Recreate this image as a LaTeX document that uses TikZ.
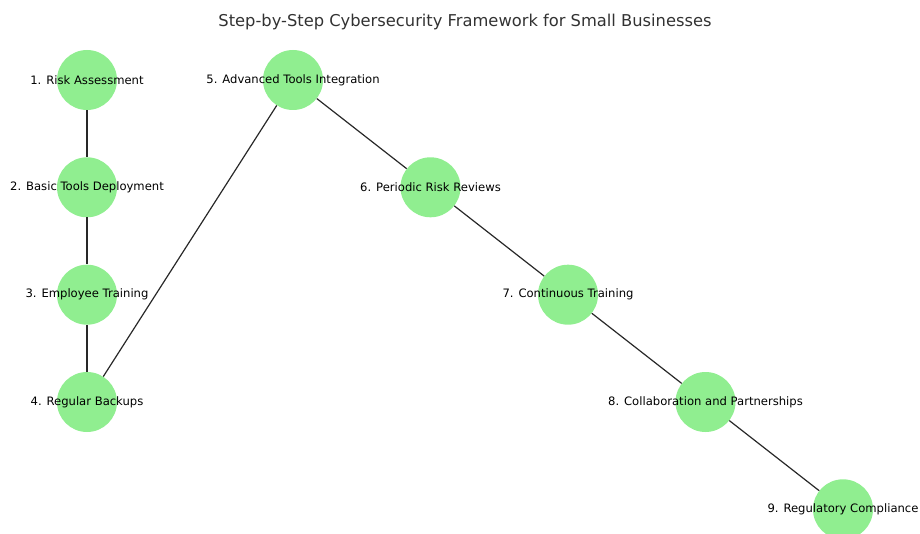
\documentclass[tikz,border=0pt]{standalone}
\usepackage{fontspec}
\setmainfont{DejaVu Sans}
\definecolor{nodegreen}{RGB}{144,238,144}
\definecolor{edgegray}{RGB}{40,40,40}
\definecolor{titlegray}{RGB}{50,50,50}
\begin{document}
\begin{tikzpicture}[x=1pt,y=-1pt,
  stepnode/.style={circle,fill=nodegreen,draw=none,minimum size=60pt,inner sep=0pt},
  steplabel/.style={font=\fontsize{11.6}{13}\selectfont,text=black,inner sep=0pt},
  link/.style={draw=edgegray,line width=1.2pt}]
\useasboundingbox (0,0) rectangle (920,534);
\node[font=\fontsize{16.3}{19}\selectfont,text=titlegray] (title) at (465,22) {Step-by-Step Cybersecurity Framework for Small Businesses};
\node[stepnode] (n1) at (87,80) {};
\node[stepnode] (n2) at (87,187.3) {};
\node[stepnode] (n3) at (87,294.7) {};
\node[stepnode] (n4) at (87,402) {};
\node[stepnode] (n5) at (293,80) {};
\node[stepnode] (n6) at (430.5,187.3) {};
\node[stepnode] (n7) at (568,294.7) {};
\node[stepnode] (n8) at (705.5,402) {};
\node[stepnode] (n9) at (843,509.3) {};
\draw[link] (n1) -- (n2);
\draw[link] (n2) -- (n3);
\draw[link] (n3) -- (n4);
\draw[link] (n4) -- (n5);
\draw[link] (n5) -- (n6);
\draw[link] (n6) -- (n7);
\draw[link] (n7) -- (n8);
\draw[link] (n8) -- (n9);
\node[steplabel] (l1) at (n1) {1. Risk Assessment};
\node[steplabel] (l2) at (n2) {2. Basic Tools Deployment};
\node[steplabel] (l3) at (n3) {3. Employee Training};
\node[steplabel] (l4) at (n4) {4. Regular Backups};
\node[steplabel] (l5) at (n5) {5. Advanced Tools Integration};
\node[steplabel] (l6) at (n6) {6. Periodic Risk Reviews};
\node[steplabel] (l7) at (n7) {7. Continuous Training};
\node[steplabel] (l8) at (n8) {8. Collaboration and Partnerships};
\node[steplabel] (l9) at (n9) {9. Regulatory Compliance};
\end{tikzpicture}
\end{document}
